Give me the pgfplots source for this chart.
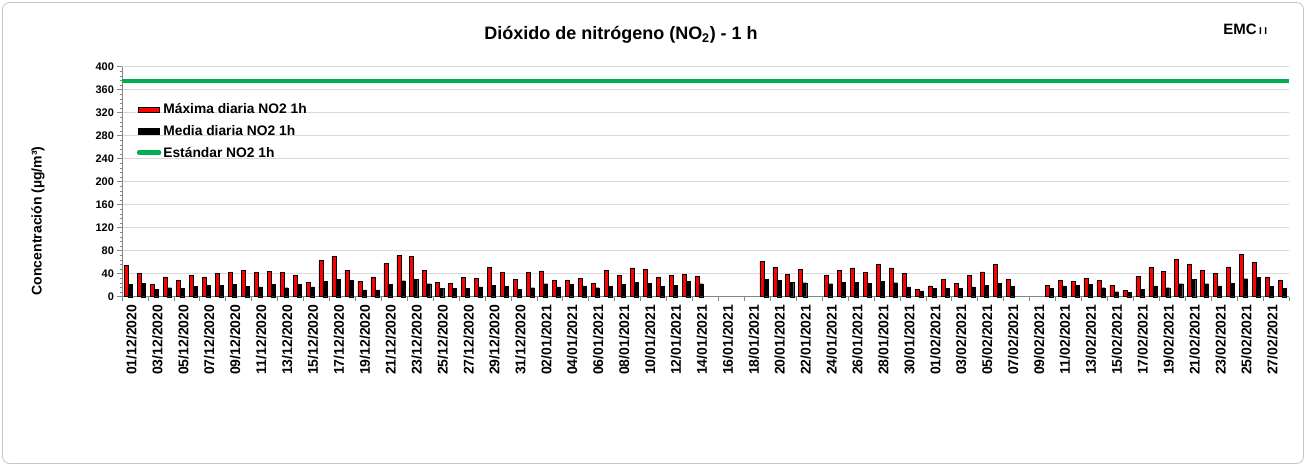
\documentclass[border=0pt]{standalone}
\usepackage{fontspec}
\setmainfont{Liberation Sans}
\usepackage{pgfplots}
\usepackage{pgfplotstable}
\pgfplotsset{compat=1.18}
\definecolor{stdgreen}{RGB}{0,176,80}
\definecolor{maxred}{RGB}{255,0,0}
\definecolor{axgray}{RGB}{134,134,134}
\definecolor{gridgray}{RGB}{217,217,217}

% d = day index (1 = 01/12/2020 ... 90 = 28/02/2021); days without data left out
\pgfplotstableread{
d   max   mean
1   54.5  21.0
2   40.6  23.8
3   21.4  13.0
4   33.0  15.6
5   27.8  14.5
6   36.5  18.5
7   33.0  20.0
8   40.6  20.0
9   42.3  22.0
10  46.4  18.5
11  42.3  17.0
12  44.0  22.0
13  42.3  15.6
14  36.5  21.4
15  24.3  17.0
16  63.0  26.7
17  70.7  30.0
18  46.4  29.0
19  26.7  12.0
20  34.0  12.0
21  58.5  21.4
22  72.0  27.8
23  70.7  30.0
24  46.4  22.6
25  24.3  15.0
26  23.0  14.5
27  34.0  14.5
28  32.0  17.0
29  51.0  20.0
30  42.3  18.0
31  30.0  13.3
32  42.3  15.6
33  45.0  22.6
34  29.0  17.0
35  27.8  21.4
36  32.0  19.0
37  23.0  15.6
38  46.4  18.0
39  36.5  21.4
40  50.0  25.5
41  47.5  23.8
42  34.0  18.0
43  37.7  20.0
44  38.8  26.7
45  35.4  22.6
50  61.0  30.0
51  51.0  29.0
52  38.8  25.5
53  47.5  24.3
55  37.7  22.6
56  46.4  25.5
57  50.0  25.5
58  42.3  23.8
59  56.0  26.7
60  50.0  24.3
61  40.0  17.0
62  12.8  10.0
63  19.0  14.5
64  30.0  14.5
65  23.0  14.5
66  37.7  17.0
67  43.0  20.0
68  56.0  23.0
69  30.0  18.0
72  20.3  14.5
73  29.0  19.0
74  26.7  20.0
75  31.3  21.4
76  27.8  15.6
77  20.3   8.7
78  11.0   7.5
79  35.4  13.3
80  51.0  19.0
81  44.6  15.6
82  64.3  22.6
83  55.6  30.0
84  46.4  22.6
85  41.0  19.0
86  52.0  23.8
87  73.0  31.3
88  59.7  33.6
89  34.0  18.0
90  27.8  14.5
}\datano

\begin{document}
\begin{tikzpicture}
\useasboundingbox (0pt,0pt) rectangle (1306pt,466pt);
\draw[rounded corners=7pt, draw=gray!45, line width=0.8pt, fill=white] (2.5pt,2.5pt) rectangle (1303.5pt,463.5pt);

\begin{axis}[
  at={(122pt,169.3pt)}, anchor=south west,
  scale only axis, width=1167pt, height=230pt,
  xmin=0.5, xmax=90.5, ymin=0, ymax=400,
  axis lines*=left,
  axis line style={axgray, line width=0.8pt},
  tick align=outside,
  /pgf/number format/assume math mode=true,
  ytick={0,40,...,400}, minor y tick num=4,
  major tick length=4.5pt, minor tick length=2pt,
  tick style={axgray, line width=0.7pt},
  ymajorgrids, grid style={gridgray, line width=1.3pt},
  yticklabel style={font=\bfseries\fontsize{11}{13}\selectfont},
  xtick={0.5,2.5,...,90.5}, xticklabels={},
  extra x ticks={1,3,...,89},
  extra x tick style={tick style={draw=none}, grid=none},
  extra x tick labels={01/12/2020,03/12/2020,05/12/2020,07/12/2020,09/12/2020,11/12/2020,13/12/2020,15/12/2020,17/12/2020,19/12/2020,21/12/2020,23/12/2020,25/12/2020,27/12/2020,29/12/2020,31/12/2020,02/01/2021,04/01/2021,06/01/2021,08/01/2021,10/01/2021,12/01/2021,14/01/2021,16/01/2021,18/01/2021,20/01/2021,22/01/2021,24/01/2021,26/01/2021,28/01/2021,30/01/2021,01/02/2021,03/02/2021,05/02/2021,07/02/2021,09/02/2021,11/02/2021,13/02/2021,15/02/2021,17/02/2021,19/02/2021,21/02/2021,23/02/2021,25/02/2021,27/02/2021},
  xticklabel style={font=\bfseries\fontsize{14}{16}\selectfont, rotate=90, anchor=east, yshift=-3pt},
  ylabel={Concentración (µg/m³)},
  ylabel style={at={(axis description cs:-0.072,0.33)}, anchor=center, rotate=0,
    font=\bfseries\fontsize{14}{16}\selectfont},
  legend style={at={(0.010,0.857)}, anchor=north west, draw=none, fill=none,
    font=\bfseries\fontsize{13.8}{15}\selectfont, row sep=6pt},
  legend cell align=left,
  clip=false,
]
\addplot[ybar, bar width=4pt, bar shift=-2pt, fill=maxred, draw=black, line width=0.5pt,
  legend image code/.code={\draw[fill=maxred, draw=black, line width=0.6pt] (0pt,-2.8pt) rectangle (21pt,2.8pt);}]
  table[x=d, y=max] {\datano};
\addlegendentry{Máxima diaria NO2 1h}
\addplot[ybar, bar width=4pt, bar shift=2pt, fill=black, draw=black, line width=0.3pt,
  legend image code/.code={\draw[fill=black, draw=black] (0pt,-2.8pt) rectangle (21pt,2.8pt);}]
  table[x=d, y=mean] {\datano};
\addlegendentry{Media diaria NO2 1h}
\addplot[stdgreen, line width=4.5pt, mark=none,
  legend image code/.code={\draw[stdgreen, line width=4.5pt, line cap=round] (1pt,0pt) -- (21pt,0pt);}]
  coordinates {(0.5,375) (90.5,375)};
\addlegendentry{Estándar NO2 1h}
\end{axis}

\node[font=\bfseries\fontsize{18}{20}\selectfont] at (621pt,431pt) {Dióxido de nitrógeno (NO\textsubscript{2}) - 1 h};
\node[font=\bfseries\fontsize{15}{17}\selectfont, anchor=base east, inner xsep=0pt] at (1257pt,431pt) {EMC};
\node[font=\bfseries\fontsize{10}{12}\selectfont, anchor=base west, inner xsep=1pt] at (1258pt,431pt) {I\hspace{2.5pt}I};
\end{tikzpicture}
\end{document}
